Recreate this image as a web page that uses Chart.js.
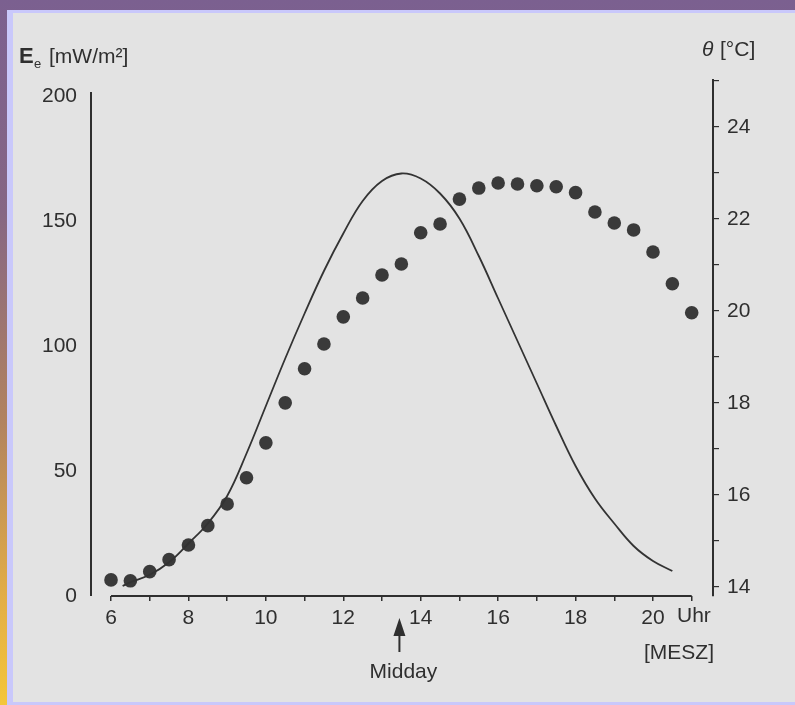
<!DOCTYPE html>
<html>
<head>
<meta charset="utf-8">
<script src="https://cdn.jsdelivr.net/npm/chart.js@4.4.0/dist/chart.umd.min.js"></script>
<style>
  html, body { margin: 0; padding: 0; }
  #frame {
    position: relative; width: 795px; height: 705px; overflow: hidden;
    background: linear-gradient(to bottom, #7b6090 0%, #866684 30%, #b2835f 60%, #e3ae46 85%, #f4c63a 100%);
  }
  #lav { position: absolute; left: 7px; top: 10px; right: 0; bottom: 0; background: #c9c8fb; }
  #paper { position: absolute; left: 13px; top: 13px; right: 0; bottom: 3px; background: #e3e3e3; }
  #myChart { position: absolute; left: 0; top: 0; }
</style>
</head>
<body>
<div id="frame">
  <div id="lav"></div>
  <div id="paper"></div>
  <canvas id="myChart" width="795" height="705"></canvas>
</div>
<script>
// irradiance curve (left axis, mW/m2)
let irrHours = [6.3, 6.5, 7, 7.5, 8, 8.5, 9, 9.5, 10, 10.5, 11, 11.5, 12, 12.5, 13, 13.5,
  14, 14.5, 15, 15.5, 16, 16.5, 17, 17.5, 18, 18.5, 19, 19.5, 20, 20.5];
let irrValues = [4, 5.5, 8.5, 13.5, 21, 29, 40, 57, 76, 95, 113, 130, 145, 158, 166, 169,
  167, 161, 151, 136, 119, 102, 85, 68, 52, 39, 29, 20, 14, 10];

// temperature points (right axis, degC)
let tempHours = [6, 6.5, 7, 7.5, 8, 8.5, 9, 9.5, 10, 10.5, 11, 11.5, 12, 12.5, 13, 13.5,
  14, 14.5, 15, 15.5, 16, 16.5, 17, 17.5, 18, 18.5, 19, 19.5, 20, 20.5, 21];
let tempValues = [14.15, 14.13, 14.33, 14.59, 14.91, 15.33, 15.80, 16.37, 17.13, 18.00, 18.74,
  19.28, 19.87, 20.28, 20.78, 21.02, 21.70, 21.89, 22.43, 22.67, 22.78, 22.76, 22.72, 22.70,
  22.57, 22.15, 21.91, 21.76, 21.28, 20.59, 19.96];

let hourTicks = [6, 7, 8, 9, 10, 11, 12, 13, 14, 15, 16, 17, 18, 19, 20, 21];
let leftTicks = [0, 50, 100, 150, 200];
let rightTicks = [14, 15, 16, 17, 18, 19, 20, 21, 22, 23, 24, 25];
let middayHour = 13.45;

let ink = "#2f2f2f";
let fontFam = "'Liberation Sans', Arial, sans-serif";

let decorPlugin = {
  id: "decor",
  afterDraw(chart) {
    let ctx = chart.ctx;
    let xs = chart.scales.x;
    let yl = chart.scales.yL;
    let bottom = chart.chartArea.bottom;
    ctx.save();
    ctx.strokeStyle = ink;
    ctx.fillStyle = ink;
    ctx.lineWidth = 2;
    // x axis line only over the time range
    ctx.beginPath();
    ctx.moveTo(xs.getPixelForValue(6), bottom);
    ctx.lineTo(xs.getPixelForValue(21), bottom);
    ctx.stroke();
    // left axis line stops just above 200
    ctx.beginPath();
    ctx.moveTo(chart.chartArea.left, yl.getPixelForValue(201.6));
    ctx.lineTo(chart.chartArea.left, bottom);
    ctx.stroke();

    ctx.font = "21px " + fontFam;
    ctx.textBaseline = "top";
    ctx.textAlign = "left";
    ctx.fillText("Uhr", xs.getPixelForValue(20) + 24, bottom + 10);
    ctx.textBaseline = "middle";
    ctx.fillText("[MESZ]", 644, 653);

    // midday arrow
    let mx = xs.getPixelForValue(middayHour);
    ctx.beginPath();
    ctx.moveTo(mx, 618);
    ctx.lineTo(mx - 6, 636);
    ctx.lineTo(mx + 6, 636);
    ctx.closePath();
    ctx.fill();
    ctx.beginPath();
    ctx.moveTo(mx, 634);
    ctx.lineTo(mx, 652);
    ctx.stroke();
    ctx.textAlign = "center";
    ctx.fillText("Midday", mx + 4, 672);

    // axis titles
    ctx.textAlign = "left";
    ctx.font = "bold 22px " + fontFam;
    ctx.fillText("E", 19, 57);
    ctx.font = "13px " + fontFam;
    ctx.fillText("e", 34, 64);
    ctx.font = "21px " + fontFam;
    ctx.fillText("[mW/m²]", 49, 57);
    ctx.font = "italic 21px " + fontFam;
    ctx.fillText("θ", 702, 50);
    ctx.font = "21px " + fontFam;
    ctx.fillText("[°C]", 720, 50);
    ctx.restore();
  }
};

let canvasEl = document.getElementById("myChart").getContext("2d");

let myChart = new Chart(canvasEl, {
  type: "scatter",
  data: {
    datasets: [{
      label: "Irradiance",
      data: irrHours.map((h, i) => ({ x: h, y: irrValues[i] })),
      yAxisID: "yL",
      showLine: true,
      borderColor: "#333333",
      borderWidth: 1.8,
      pointRadius: 0,
      tension: 0.4
    },
    {
      label: "Temperature",
      data: tempHours.map((h, i) => ({ x: h, y: tempValues[i] })),
      yAxisID: "yR",
      backgroundColor: "#3a3a3a",
      borderWidth: 0,
      pointRadius: 6.8
    }]
  },
  options: {
    responsive: false,
    animation: false,
    layout: { padding: { top: 80, bottom: 0, left: 0, right: 0 } },
    plugins: {
      legend: { display: false },
      tooltip: { enabled: false }
    },
    scales: {
      x: {
        type: "linear",
        position: "bottom",
        min: 5.483,
        max: 21.55,
        afterBuildTicks: (s) => { s.ticks = hourTicks.map(v => ({ value: v })); },
        afterFit: (s) => { s.height = 109; },
        border: { display: false },
        grid: { drawOnChartArea: false, drawTicks: true, tickLength: 5, color: ink, lineWidth: 1.5 },
        ticks: {
          color: ink,
          font: { family: fontFam, size: 21 },
          padding: 5,
          maxRotation: 0,
          autoSkip: false,
          callback: (v) => (v % 2 === 0 ? String(v) : "")
        }
      },
      yL: {
        type: "linear",
        position: "left",
        min: 0,
        max: 206.4,
        afterBuildTicks: (s) => { s.ticks = leftTicks.map(v => ({ value: v })); },
        afterFit: (s) => { s.width = 91; },
        border: { display: false },
        grid: { display: false, drawTicks: false },
        ticks: {
          color: ink,
          font: { family: fontFam, size: 21 },
          padding: 14
        }
      },
      yR: {
        type: "linear",
        position: "right",
        min: 13.8,
        max: 25.02,
        afterBuildTicks: (s) => { s.ticks = rightTicks.map(v => ({ value: v })); },
        afterFit: (s) => { s.width = 82; },
        border: { display: true, color: ink, width: 2 },
        grid: { drawOnChartArea: false, drawTicks: true, tickLength: 6, color: ink, lineWidth: 1.2 },
        ticks: {
          color: ink,
          font: { family: fontFam, size: 21 },
          padding: 8,
          callback: (v) => (v % 2 === 0 && v < 25 ? String(v) : "")
        }
      }
    }
  },
  plugins: [decorPlugin]
});
</script>
</body>
</html>
